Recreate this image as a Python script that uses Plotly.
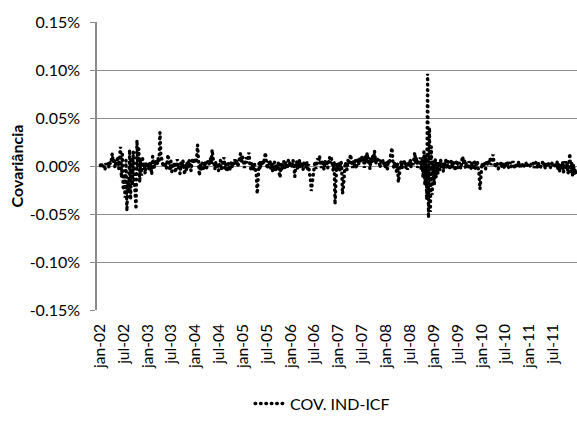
import pandas as pd
import plotly.graph_objects as go

# Weekly covariance values (in %), one list per year
cov_2002 = [0.001, -0.002, 0.002, -0.001,
            0.000, -0.004, 0.003, 0.001,
            0.003, -0.002, 0.004, 0.002, 0.006,
            0.013, 0.004, 0.008, -0.002,
            0.005, 0.002, 0.010, -0.003, 0.006,
            0.020, -0.012, 0.012, -0.025,
            -0.008, -0.033, 0.006, -0.047, -0.015,
            -0.028, 0.017, -0.035, 0.009,
            -0.020, 0.015, -0.012, -0.030,
            -0.045, 0.027, -0.005, 0.018, -0.017,
            0.008, -0.010, 0.010, -0.004,
            0.003, -0.008, 0.004, -0.002]
cov_2003 = [0.002, -0.003, 0.004, 0.001,
            -0.009, 0.010, 0.002, -0.002,
            0.003, 0.006, 0.001, 0.008, 0.004,
            0.035, 0.012, 0.005, 0.002,
            -0.001, 0.004, 0.002, -0.003, 0.006,
            0.012, 0.001, -0.004, 0.005,
            -0.006, 0.003, -0.002, 0.004, -0.007,
            0.002, 0.007, -0.003, 0.001,
            -0.008, 0.004, -0.002, 0.006,
            0.001, -0.009, 0.003, -0.004, 0.005,
            -0.002, 0.006, 0.002, -0.005,
            0.004, 0.008, 0.003, 0.006]
cov_2004 = [0.003, 0.007, 0.022, 0.010,
            -0.010, 0.002, -0.004, 0.003,
            0.001, -0.003, 0.005, 0.002, -0.002,
            0.004, 0.006, 0.001, 0.009,
            0.003, 0.017, 0.008, 0.002, -0.003,
            0.005, -0.002, 0.003, -0.005,
            0.002, 0.006, -0.004, 0.001, 0.004,
            0.009, -0.003, 0.002, -0.006,
            -0.002, 0.003, -0.005, 0.001,
            0.004, -0.002, 0.005, 0.002, 0.007,
            0.003, 0.006, -0.001, 0.005,
            0.008, 0.013, 0.004, 0.010]
cov_2005 = [0.005, -0.002, 0.004, 0.009,
            0.003, 0.007, 0.014, 0.002,
            -0.003, 0.004, 0.001, -0.004, 0.002,
            -0.002, -0.008, -0.029, -0.012,
            0.003, -0.004, 0.005, 0.001, 0.006,
            0.002, 0.008, 0.014, 0.004,
            -0.003, 0.005, 0.001, 0.006, -0.004,
            0.003, -0.006, 0.002, 0.004,
            -0.005, 0.001, -0.003, 0.004,
            -0.007, -0.012, 0.002, -0.004, 0.003,
            0.005, -0.002, 0.004, 0.001,
            -0.003, 0.006, -0.001, 0.003]
cov_2006 = [0.004, -0.002, 0.006, 0.001,
            -0.011, 0.003, 0.005, -0.003,
            0.002, 0.006, -0.002, 0.004, 0.001,
            -0.004, 0.003, 0.005, -0.002,
            0.004, -0.003, 0.002, -0.008, -0.012,
            -0.026, -0.018, -0.006, 0.003,
            0.005, -0.003, 0.004, 0.008, 0.002,
            0.011, 0.003, -0.002, 0.006,
            0.002, -0.004, 0.005, 0.001,
            0.006, -0.002, 0.004, 0.009, 0.003,
            0.008, 0.002, -0.005, 0.004,
            -0.040, -0.015, 0.003, -0.004]
cov_2007 = [0.003, -0.004, 0.005, 0.002,
            -0.029, -0.022, -0.003, 0.004,
            0.001, -0.004, 0.006, 0.002, 0.008,
            0.012, 0.003, -0.002, 0.005,
            0.001, 0.006, -0.003, 0.004, 0.007,
            0.002, 0.009, 0.004, 0.011,
            0.005, 0.008, -0.002, 0.010, 0.006,
            0.014, 0.004, 0.009, -0.003,
            0.007, 0.003, 0.010, 0.005,
            0.016, 0.006, 0.002, 0.009, 0.004,
            0.007, -0.002, 0.005, 0.003,
            0.006, 0.001, 0.004, -0.003]
cov_2008 = [0.004, -0.003, 0.006, 0.002,
            0.008, 0.016, 0.019, 0.005,
            -0.002, 0.004, 0.001, -0.006, 0.003,
            -0.017, -0.010, 0.002, 0.005,
            -0.003, 0.004, 0.001, 0.006, -0.002,
            0.003, -0.004, 0.005, 0.002,
            0.006, -0.002, 0.004, 0.001, 0.007,
            0.014, 0.003, 0.008, -0.002,
            0.005, 0.002, 0.009, -0.004,
            0.006, -0.012, 0.015, -0.020, 0.010,
            -0.035, 0.096, -0.054, 0.040,
            -0.048, 0.020, -0.030, 0.005]
cov_2009 = [-0.020, 0.008, -0.012, 0.004,
            -0.008, 0.005, -0.004, 0.006,
            -0.002, 0.004, -0.006, 0.003, 0.001,
            0.008, -0.003, 0.005, 0.002,
            -0.004, 0.003, 0.006, -0.002, 0.004,
            0.001, -0.005, 0.003, 0.006,
            -0.002, 0.004, 0.002, -0.003, 0.005,
            0.010, 0.003, 0.007, -0.002,
            0.004, 0.001, -0.003, 0.005,
            0.002, -0.004, 0.003, 0.001, -0.002,
            0.004, -0.003, 0.002, 0.005,
            -0.002, -0.008, -0.024, -0.015]
cov_2010 = [0.003, -0.002, 0.004, 0.001,
            -0.003, 0.005, 0.002, 0.006,
            0.003, 0.007, 0.001, 0.004, 0.012,
            0.005, 0.002, -0.002, 0.004,
            0.001, -0.003, 0.003, 0.000, 0.004,
            -0.002, 0.003, 0.001, -0.003,
            0.004, 0.000, 0.003, -0.002, 0.002,
            0.004, -0.001, 0.002, 0.005,
            0.001, -0.003, 0.003, 0.000,
            0.002, 0.004, -0.001, 0.003, 0.001,
            -0.002, 0.003, 0.000, 0.002,
            0.004, -0.001, 0.002, 0.001]
cov_2011 = [0.002, -0.001, 0.003, 0.000,
            0.003, -0.002, 0.002, 0.004,
            0.001, -0.002, 0.003, 0.001, -0.001,
            0.002, 0.004, 0.000, 0.003,
            -0.002, 0.002, 0.001, -0.001, 0.003,
            0.001, -0.002, 0.002, 0.004,
            0.000, 0.003, -0.002, 0.002, 0.005,
            -0.004, 0.003, -0.006, 0.002,
            -0.003, 0.004, -0.007, 0.001,
            0.005, -0.004, 0.003, -0.008, 0.002,
            0.013, -0.006, 0.004, -0.010,
            0.002, -0.009, -0.003, -0.011]

years = [2002, 2003, 2004, 2005, 2006, 2007, 2008, 2009, 2010, 2011]
year_values = [cov_2002, cov_2003, cov_2004, cov_2005, cov_2006,
               cov_2007, cov_2008, cov_2009, cov_2010, cov_2011]

tick_dates = [f"{y}-{m}-01" for y in years for m in ("01", "07")]
tick_labels = [f"{m}-{str(y)[2:]}" for y in years for m in ("jan", "jul")]

y_ticks = [-0.15, -0.10, -0.05, 0.0, 0.05, 0.10, 0.15]
y_labels = ["-0.15%", "-0.10%", "-0.05%", "0.00%", "0.05%", "0.10%", "0.15%"]

dates = []
values = []
for y, vals in zip(years, year_values):
    dates.extend(pd.date_range(f"{y}-01-04", periods=len(vals), freq="7D"))
    values.extend(vals)

FONT = "Lato"
GRID = "#8c8c8c"

fig = go.Figure()
fig.add_trace(go.Scatter(
    x=dates, y=values, mode="lines", name="COV. IND-ICF",
    line=dict(color="black", width=3.4, dash="0.6px,4.8px"),
))

fig.update_layout(
    width=577, height=421,
    margin=dict(l=97, r=0, t=22, b=109),
    paper_bgcolor="white", plot_bgcolor="white",
    font=dict(family=FONT, size=15, color="black"),
    showlegend=True,
    legend=dict(orientation="h", x=0.47, xanchor="center", y=-0.325,
                yanchor="middle", font=dict(family=FONT, size=16)),
    xaxis=dict(
        type="date", range=["2001-12-09", "2012-01-02"],
        tickmode="array", tickvals=tick_dates, ticktext=tick_labels,
        tickangle=-90, tickfont=dict(family=FONT, size=15.5),
        showgrid=False, zeroline=False, showline=False, ticks="",
        ticklabelstandoff=10,
    ),
    yaxis=dict(
        range=[-0.15, 0.15], tickmode="array", tickvals=y_ticks, ticktext=y_labels,
        showgrid=True, gridcolor=GRID, gridwidth=1,
        zeroline=True, zerolinecolor=GRID, zerolinewidth=1,
        showline=True, linecolor=GRID, linewidth=1.5,
        ticks="outside", ticklen=5, tickcolor=GRID,
        tickfont=dict(family=FONT, size=16), ticklabelstandoff=7,
        title=dict(text="<b>Covariância</b>", font=dict(family=FONT, size=16), standoff=2),
        automargin=False,
    ),
)

post = (
    "document.body.style.margin='0';"
    "document.querySelectorAll('.js-line').forEach(function(p){"
    "p.style.strokeLinecap='round';});"
)
fig.write_html("out.html", post_script=post, config={"displayModeBar": False})
